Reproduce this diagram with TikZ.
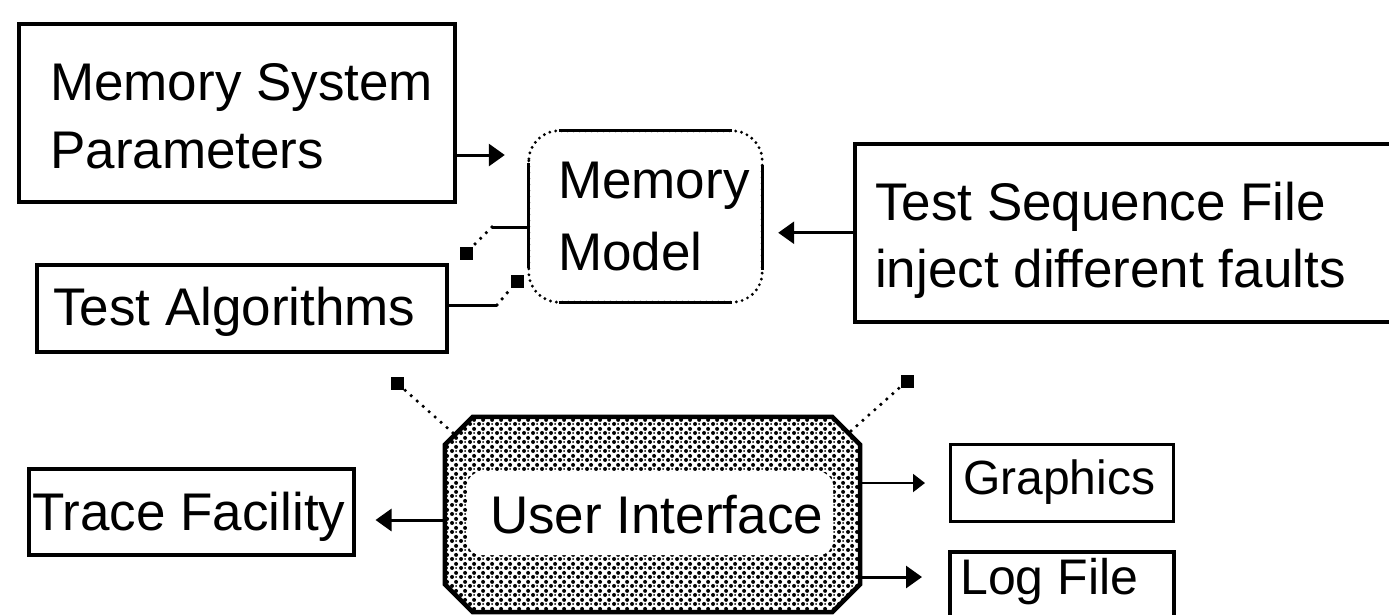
\documentclass[tikz,border=0pt]{standalone}
\usepackage{fontspec}
\setmainfont{Liberation Sans}
\usetikzlibrary{arrows.meta,patterns.meta,calc}

% halftone dot fill for the user interface block
\tikzdeclarepattern{
  name=halftone,
  type=uncolored,
  bounding box={(0pt,0pt) and (9pt,9pt)},
  tile size={(9pt,9pt)},
  code={
    \fill (2.25pt,2.25pt) circle (2.2pt);
    \fill (6.75pt,6.75pt) circle (2.2pt);
    \fill (6.75pt,2.25pt) circle (1.1pt);
  }
}

\begin{document}
\begin{tikzpicture}[x=1pt,y=-1pt,
  box/.style={draw, line width=3.5pt, inner sep=0pt, anchor=north west},
  lbl/.style={anchor=base west, inner sep=0pt, font=\fontsize{53}{60}\selectfont},
  edge/.style={line width=3pt},
  arr/.style={line width=3pt, -{Triangle[length=16pt,width=22pt]}},
  thinarr/.style={line width=2pt, -{Triangle[length=12pt,width=18pt]}},
  dotl/.style={line width=3.6pt, line cap=round, dash pattern=on 0pt off 8pt},
  sqhead/.style={fill, minimum size=13pt, inner sep=0pt}
]
\useasboundingbox (0,0) rectangle (1389,614);
\clip (0,0) rectangle (1389,614);
\fill[white] (0,0) rectangle (1389,614);

% ---- boxes ----
\node[box, minimum width=436pt, minimum height=178pt] (msp) at (17,22) {};
\node[lbl] (msp1) at (50,100) {Memory System};
\node[lbl] (msp2) at (50,168) {Parameters};

\node[box, minimum width=410pt, minimum height=87pt] (ta) at (35,263) {};
\node[lbl] (tat) at (53,325) {Test Algorithms};

\node[box, minimum width=560pt, minimum height=178pt] (tsf) at (853,142) {};
\node[lbl] (tsf1) at (875,220) {Test Sequence File};
\node[lbl] (tsf2) at (875,287) {inject different faults};

\node[box, minimum width=325pt, minimum height=86pt] (tf) at (27,467) {};
\node[lbl] (tft) at (32,530) {Trace Facility};

\node[box, line width=3pt, minimum width=223pt, minimum height=77pt] (gr) at (949,443) {};
\node[lbl, font=\fontsize{48}{56}\selectfont] (grt) at (963,494) {Graphics};

\node[box, minimum width=224pt, minimum height=90pt] (lf) at (948,550) {};
\node[lbl, font=\fontsize{50}{58}\selectfont] (lft) at (960,594) {Log File};

% ---- memory model: rounded box with dotted corners ----
\node[inner sep=0pt, minimum width=233pt, minimum height=171pt] (mm) at (645.5,216.5) {};
\draw[line width=3.2pt, line cap=round, dash pattern=on 0pt off 6pt, rounded corners=30pt]
  (mm.north west) rectangle (mm.south east);
\draw[edge] ([xshift=30pt]mm.north west) -- ([xshift=-30pt]mm.north east);
\draw[edge] ([xshift=30pt]mm.south west) -- ([xshift=-30pt]mm.south east);
\draw[edge] ([yshift=-32pt]mm.north west) -- ([yshift=34pt]mm.south west);
\draw[edge] ([yshift=-34pt]mm.north east) -- ([yshift=32pt]mm.south east);
\node[lbl] (mm1) at (558,198) {Memory};
\node[lbl] (mm2) at (558,270) {Model};

% ---- user interface: chamfered halftone frame ----
\node[inner sep=0pt, minimum width=415pt, minimum height=195pt] (ui) at (652.5,514.5) {};
\path[pattern=halftone, draw, line width=4.5pt]
  ($(ui.north west)+(28,0)$) -- ($(ui.north east)+(-28,0)$) --
  ($(ui.north east)+(0,28)$) -- ($(ui.south east)+(0,-28)$) --
  ($(ui.south east)+(-28,0)$) -- ($(ui.south west)+(28,0)$) --
  ($(ui.south west)+(0,-28)$) -- ($(ui.north west)+(0,28)$) -- cycle;
\fill[white, rounded corners=14pt] (467,472) rectangle (833,555);
\node[lbl] (uit) at (490,533) {User Interface};

% ---- connectors ----
\coordinate (y1) at (0,155);
\draw[arr, shorten >=24pt] (msp.east |- y1) -- (mm.west |- y1);
\draw[arr, shorten >=16pt] (tsf.west) -- (mm.east |- tsf.west);

% dotted links ending in square heads
\coordinate (k1) at (492,227);
\node[sqhead] (s1) at (466,253) {};
\draw[edge] (mm.west |- k1) -- (k1);
\draw[dotl] (k1) -- (s1);

\coordinate (k2) at (497,305);
\node[sqhead] (s2) at (517,281) {};
\draw[edge] (ta.east |- k2) -- (k2);
\draw[dotl] (k2) -- (s2);

\coordinate (u1) at (453,433);
\node[sqhead] (s3) at (397,383) {};
\draw[dotl] (u1) -- (s3);
\coordinate (u2) at (851,431);
\node[sqhead] (s4) at (907,381) {};
\draw[dotl] (u2) -- (s4);

\coordinate (y3) at (0,520);
\draw[arr, shorten >=20pt] (ui.west |- y3) -- (tf.east |- y3);
\draw[thinarr, shorten >=24pt] (ui.east |- gr.west) -- (gr.west);
\coordinate (y4) at (0,577);
\draw[arr, shorten >=26pt] (ui.east |- y4) -- (lf.west |- y4);
\end{tikzpicture}
\end{document}
